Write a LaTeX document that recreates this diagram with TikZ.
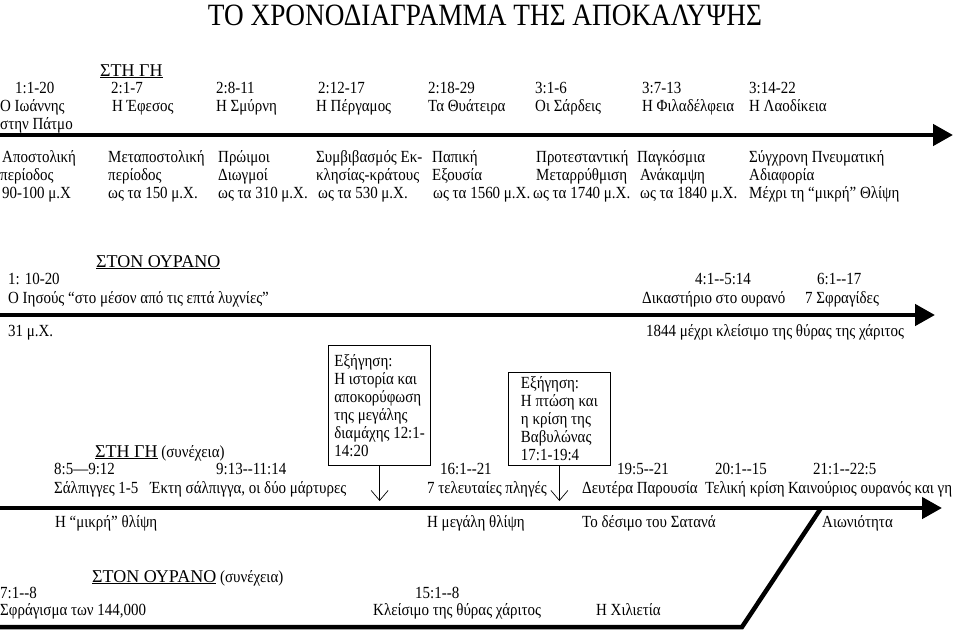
\documentclass[tikz,border=0pt]{standalone}
\usepackage{fontspec}
\setmainfont{Liberation Serif}[Ligatures=TeXOff]
\newfontfamily\bodyfont{Liberation Serif}[FakeStretch=0.88,Ligatures=TeXOff]
\usetikzlibrary{arrows.meta}
\tikzset{
  txt/.style={anchor=base west, inner sep=0pt, font=\bodyfont\fontsize{17}{18}\selectfont},
  head/.style={anchor=base west, inner sep=0pt, font=\rmfamily\fontsize{18}{20}\selectfont},
  mainarrow/.style={line width=4.5pt, -{Triangle[length=20pt,width=21pt]}},
  plainthick/.style={line width=4.5pt, line cap=butt, line join=miter},
  expl/.style={draw, line width=0.8pt, anchor=north west, align=left, minimum width=102pt,
    inner xsep=6pt, font=\bodyfont\fontsize{17}{18}\selectfont},
  downarrow/.style={line width=0.7pt, -{Straight Barb[length=10pt,width=17pt]}}
}
\newcommand{\contd}{\bodyfont\fontsize{17}{18}\selectfont\ (συνέχεια)}
\begin{document}
\begin{tikzpicture}[x=1pt,y=-1pt]
\useasboundingbox (0,0) rectangle (960,635);
% title
\node[anchor=center, inner sep=0pt, font=\bodyfont\fontsize{31}{34}\selectfont] (title) at (485,15) {ΤΟ ΧΡΟΝΟΔΙΑΓΡΑΜΜΑ ΤΗΣ ΑΠΟΚΑΛΥΨΗΣ};

% ---------- Section 1
\node[head] (h1) at (100,76) {\underline{ΣΤΗ ΓΗ}};
\node[txt] (a1) at (15,93) {1:1-20};
\node[txt] (a2) at (111,93) {2:1-7};
\node[txt] (a3) at (216,93) {2:8-11};
\node[txt] (a4) at (318,93) {2:12-17};
\node[txt] (a5) at (428,93) {2:18-29};
\node[txt] (a6) at (535,93) {3:1-6};
\node[txt] (a7) at (642,93) {3:7-13};
\node[txt] (a8) at (749,93) {3:14-22};
\node[txt] (b1) at (0,111) {Ο Ιωάννης};
\node[txt] (b2) at (112,111) {Η Έφεσος};
\node[txt] (b3) at (216,111) {Η Σμύρνη};
\node[txt] (b4) at (316,111) {Η Πέργαμος};
\node[txt] (b5) at (428,111) {Τα Θυάτειρα};
\node[txt] (b6) at (535,111) {Οι Σάρδεις};
\node[txt] (b7) at (642,111) {Η Φιλαδέλφεια};
\node[txt] (b8) at (749,111) {Η Λαοδίκεια};
\node[txt] (b9) at (0,129) {στην Πάτμο};
\coordinate (l1s) at (0,135);
\coordinate (l1e) at (953,135);
\draw[mainarrow] (l1s) -- (l1e);

\node[txt] (c1) at (2,162) {Αποστολική};
\node[txt] (c2) at (108,162) {Μεταποστολική};
\node[txt] (c3) at (218,162) {Πρώιμοι};
\node[txt] (c4) at (316,162) {Συμβιβασμός Εκ-};
\node[txt] (c5) at (432,162) {Παπική};
\node[txt] (c6) at (536,162) {Προτεσταντική};
\node[txt] (c7) at (637,162) {Παγκόσμια};
\node[txt] (c8) at (749,162) {Σύγχρονη Πνευματική};
\node[txt] (d1) at (0,180) {περίοδος};
\node[txt] (d2) at (108,180) {περίοδος};
\node[txt] (d3) at (218,180) {Διωγμοί};
\node[txt] (d4) at (316,180) {κλησίας-κράτους};
\node[txt] (d5) at (432,180) {Εξουσία};
\node[txt] (d6) at (536,180) {Μεταρρύθμιση};
\node[txt] (d7) at (640,180) {Ανάκαμψη};
\node[txt] (d8) at (749,180) {Αδιαφορία};
\node[txt] (e1) at (2,198) {90-100 μ.Χ};
\node[txt] (e2) at (108,198) {ως τα 150 μ.Χ.};
\node[txt] (e3) at (218,198) {ως τα 310 μ.Χ.};
\node[txt] (e4) at (318,198) {ως τα 530 μ.Χ.};
\node[txt] (e5) at (433,198) {ως τα 1560 μ.Χ.};
\node[txt] (e6) at (533,198) {ως τα 1740 μ.Χ.};
\node[txt] (e7) at (640,198) {ως τα 1840 μ.Χ.};
\node[txt] (e8) at (749,198) {Μέχρι τη “μικρή” Θλίψη};

% ---------- Section 2
\node[head] (h2) at (96,267) {\underline{ΣΤΟΝ ΟΥΡΑΝΟ}};
\node[txt] (f1) at (8,284) {1: 10-20};
\node[txt] (g1) at (8,303) {Ο Ιησούς “στο μέσον από τις επτά λυχνίες”};
\node[txt] (f2) at (695,284) {4:1--5:14};
\node[txt] (g2) at (642,303) {Δικαστήριο στο ουρανό};
\node[txt] (f3) at (817,284) {6:1--17};
\node[txt] (g3) at (805,303) {7 Σφραγίδες};
\coordinate (l2s) at (0,315);
\coordinate (l2e) at (935,315);
\draw[mainarrow] (l2s) -- (l2e);
\node[txt] (k1) at (8,336) {31 μ.Χ.};
\node[txt] (k2) at (646,336) {1844 μέχρι κλείσιμο της θύρας της χάριτος};

% ---------- Section 3
\node[expl, minimum height=120pt] (box1) at (328,345) {Εξήγηση:\\Η ιστορία και\\αποκορύφωση\\της μεγάλης\\διαμάχης 12:1-\\14:20};
\node[expl, minimum height=93pt] (box2) at (508,372) {Εξήγηση:\\Η πτώση και\\η κρίση της\\Βαβυλώνας\\17:1-19:4};
\node[head] (h3) at (95,457) {\underline{ΣΤΗ ΓΗ}\contd};
\node[txt] (m1) at (54,474) {8:5—9:12};
\node[txt] (m2) at (216,474) {9:13--11:14};
\node[txt] (m3) at (440,474) {16:1--21};
\node[txt] (m4) at (617,474) {19:5--21};
\node[txt] (m5) at (715,474) {20:1--15};
\node[txt] (m6) at (813,474) {21:1--22:5};
\node[txt] (n1) at (54,493) {Σάλπιγγες 1-5};
\node[txt] (n2) at (150,493) {Έκτη σάλπιγγα, οι δύο μάρτυρες};
\node[txt] (n3) at (427,493) {7 τελευταίες πληγές};
\node[txt] (n4) at (582,493) {Δευτέρα Παρουσία};
\node[txt] (n5) at (705,493) {Τελική κρίση};
\node[txt] (n6) at (788,493) {Καινούριος ουρανός και γη};
\coordinate (l3s) at (0,508);
\coordinate (l3e) at (942,508);
\draw[mainarrow] (l3s) -- (l3e);
\coordinate (t1) at (box1.south |- 0,501);
\coordinate (t2) at (box2.south |- 0,501);
\draw[downarrow] (box1.south) -- (t1);
\draw[downarrow] (box2.south) -- (t2);
\node[txt] (p1) at (55,527) {Η “μικρή” θλίψη};
\node[txt] (p2) at (427,527) {Η μεγάλη θλίψη};
\node[txt] (p3) at (582,527) {Το δέσιμο του Σατανά};
\node[txt] (p4) at (822,527) {Αιωνιότητα};

% ---------- Section 4
\node[head] (h4) at (92,582) {\underline{ΣΤΟΝ ΟΥΡΑΝΟ}\contd};
\node[txt] (q1) at (0,598) {7:1--8};
\node[txt] (q2) at (415,598) {15:1--8};
\node[txt] (r1) at (0,615) {Σφράγισμα των 144,000};
\node[txt] (r2) at (373,615) {Κλείσιμο της θύρας χάριτος};
\node[txt] (r3) at (596,615) {Η Χιλιετία};
\coordinate (l4s) at (0,627);
\coordinate (l4c) at (742,627);
\coordinate (l4e) at (821,508);
\draw[plainthick] (l4s) -- (l4c) -- (l4e);
\end{tikzpicture}
\end{document}
